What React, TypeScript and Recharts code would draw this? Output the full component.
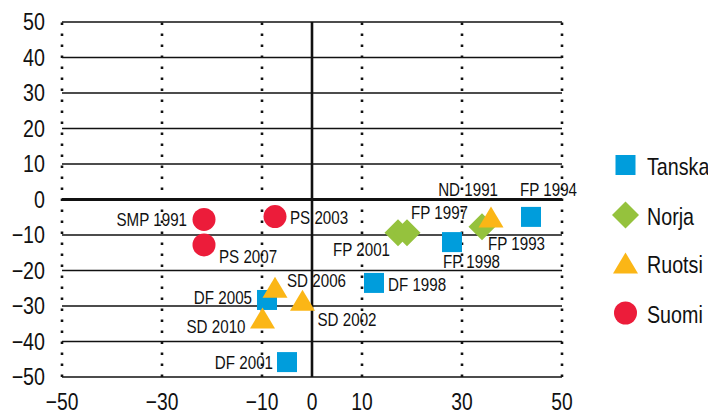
import React from "react";
import { ScatterChart, Scatter, XAxis, YAxis, ReferenceLine } from "recharts";

// ---- data ----
const seriesNames = ["Tanska", "Norja", "Ruotsi", "Suomi"];

const tanskaLabels = ["FP 1994", "FP 1998", "DF 1998", "DF 2005", "DF 2001"];
const tanskaX = [43.8, 28, 12.4, -9, -5];
const tanskaY = [-4.9, -12, -23.5, -28.3, -45.8];

const norjaLabels = ["FP 2001", "FP 1997", "FP 1993"];
const norjaX = [17.2, 19, 34];
const norjaY = [-9.4, -9.4, -7.7];

const ruotsiLabels = ["ND 1991", "SD 2006", "SD 2002", "SD 2010"];
const ruotsiX = [35.8, -7.4, -1.9, -9.9];
const ruotsiY = [-4.9, -24.7, -28.4, -33.4];

const suomiLabels = ["SMP 1991", "PS 2003", "PS 2007"];
const suomiX = [-21.6, -7.4, -21.6];
const suomiY = [-5.6, -4.8, -12.8];

const xTicks = [-50, -30, -10, 0, 10, 30, 50];
const yTicks = [-50, -40, -30, -20, -10, 0, 10, 20, 30, 40, 50];
const xDotted = [-50, -30, -10, 10, 30, 50];

// ---- styling ----
const FONT = "'Liberation Sans', Arial, sans-serif";
const NARROW = 0.82;
const COLORS = { Tanska: "#009ddc", Norja: "#95c23d", Ruotsi: "#fbb616", Suomi: "#ec1c3a" };

const LABEL_OFFSETS: Record<string, { dx: number; dy: number; anchor: "start" | "end" }> = {
  "FP 1994": { dx: -11, dy: -27, anchor: "start" },
  "ND 1991": { dx: 7, dy: -27, anchor: "end" },
  "FP 1997": { dx: 4, dy: -20, anchor: "start" },
  "FP 2001": { dx: -8, dy: 17, anchor: "end" },
  "FP 1993": { dx: 6, dy: 17, anchor: "start" },
  "FP 1998": { dx: -9, dy: 20, anchor: "start" },
  "DF 1998": { dx: 14, dy: 2, anchor: "start" },
  "SMP 1991": { dx: -17, dy: 1, anchor: "end" },
  "PS 2003": { dx: 15, dy: 1, anchor: "start" },
  "PS 2007": { dx: 15, dy: 12, anchor: "start" },
  "SD 2006": { dx: 12, dy: -6, anchor: "start" },
  "DF 2005": { dx: -15, dy: -2, anchor: "end" },
  "SD 2010": { dx: -17, dy: 9, anchor: "end" },
  "SD 2002": { dx: 15, dy: 20, anchor: "start" },
  "DF 2001": { dx: -14, dy: 1, anchor: "end" },
};

const build = (labels: string[], xs: number[], ys: number[]) =>
  labels.map((label, i) => ({ label, x: xs[i], y: ys[i] }));

const seriesData: Record<string, any[]> = {
  Tanska: build(tanskaLabels, tanskaX, tanskaY),
  Norja: build(norjaLabels, norjaX, norjaY),
  Ruotsi: build(ruotsiLabels, ruotsiX, ruotsiY),
  Suomi: build(suomiLabels, suomiX, suomiY),
};

function NText({
  x,
  y,
  size,
  anchor = "start",
  children,
}: {
  x: number;
  y: number;
  size: number;
  anchor?: "start" | "middle" | "end";
  children: React.ReactNode;
}) {
  return (
    <text
      transform={`translate(${x},${y}) scale(${NARROW},1)`}
      x={0}
      y={0}
      textAnchor={anchor}
      dominantBaseline="central"
      fontFamily={FONT}
      fontSize={size}
      fill="#111"
    >
      {children}
    </text>
  );
}

function Marker({ kind, cx, cy, color }: { kind: string; cx: number; cy: number; color: string }) {
  if (kind === "Tanska") return <rect x={cx - 10} y={cy - 10} width={20} height={20} fill={color} />;
  if (kind === "Norja")
    return <polygon points={`${cx},${cy - 13.5} ${cx + 13.5},${cy} ${cx},${cy + 13.5} ${cx - 13.5},${cy}`} fill={color} />;
  if (kind === "Ruotsi")
    return <polygon points={`${cx},${cy - 10.5} ${cx + 12.5},${cy + 10.5} ${cx - 12.5},${cy + 10.5}`} fill={color} />;
  return <circle cx={cx} cy={cy} r={11.5} fill={color} />;
}

const makeShape = (kind: string) => (props: any) => {
  const { cx, cy, payload } = props;
  if (cx == null || cy == null) return <g />;
  const off = LABEL_OFFSETS[payload.label] || { dx: 14, dy: 0, anchor: "start" as const };
  return (
    <g>
      <Marker kind={kind} cx={cx} cy={cy} color={(COLORS as any)[kind]} />
      <NText x={cx + off.dx} y={cy + off.dy} size={18.5} anchor={off.anchor}>
        {payload.label}
      </NText>
    </g>
  );
};

const fmt = (v: number) => (v < 0 ? "\u2212" + Math.abs(v) : String(v));

const YTick = (props: any) => {
  const { x, y, payload } = props;
  return (
    <NText x={x - 17} y={y} size={24} anchor="end">
      {fmt(payload.value)}
    </NText>
  );
};

const XTick = (props: any) => {
  const { x, y, payload } = props;
  return (
    <NText x={x} y={y + 25} size={23.5} anchor="middle">
      {fmt(payload.value)}
    </NText>
  );
};

export default function App() {
  const W = 708;
  const H = 407;
  return (
    <div style={{ position: "relative", width: W, height: H }}>
      <ScatterChart width={W} height={H} margin={{ top: 14, right: 154, bottom: 5, left: 0 }}>
        <XAxis
          type="number"
          dataKey="x"
          domain={[-50, 50]}
          ticks={xTicks}
          axisLine={false}
          tickLine={false}
          tickSize={0}
          tickMargin={0}
          height={33}
          tick={<XTick />}
          interval={0}
        />
        <YAxis
          type="number"
          dataKey="y"
          domain={[-50, 50]}
          ticks={yTicks}
          axisLine={false}
          tickLine={false}
          tickSize={0}
          tickMargin={0}
          width={54}
          tick={<YTick />}
          interval={0}
        />
        {yTicks
          .filter((v) => v !== 0)
          .map((v) => (
            <ReferenceLine key={"h" + v} y={v} stroke="#111" strokeWidth={1.4} />
          ))}
        {xDotted.map((v) => (
          <ReferenceLine key={"v" + v} x={v} stroke="#111" strokeWidth={2.6} strokeDasharray="2.6 8.4" />
        ))}
        <ReferenceLine y={0} stroke="#111" strokeWidth={3} />
        <ReferenceLine x={0} stroke="#111" strokeWidth={2.6} />
        {seriesNames.map((name) => (
          <Scatter
            key={name}
            name={name}
            data={seriesData[name]}
            fill={(COLORS as any)[name]}
            shape={makeShape(name)}
            isAnimationActive={false}
          />
        ))}
      </ScatterChart>
      <svg width={W} height={H} style={{ position: "absolute", left: 0, top: 0, pointerEvents: "none" }}>
        {seriesNames.map((name, i) => {
          const cy = [157, 207, 255, 305][i];
          return (
            <g key={name}>
              <Marker kind={name} cx={617.5} cy={cy} color={(COLORS as any)[name]} />
              <NText x={639} y={cy + 2} size={24}>
                {name}
              </NText>
            </g>
          );
        })}
      </svg>
    </div>
  );
}
